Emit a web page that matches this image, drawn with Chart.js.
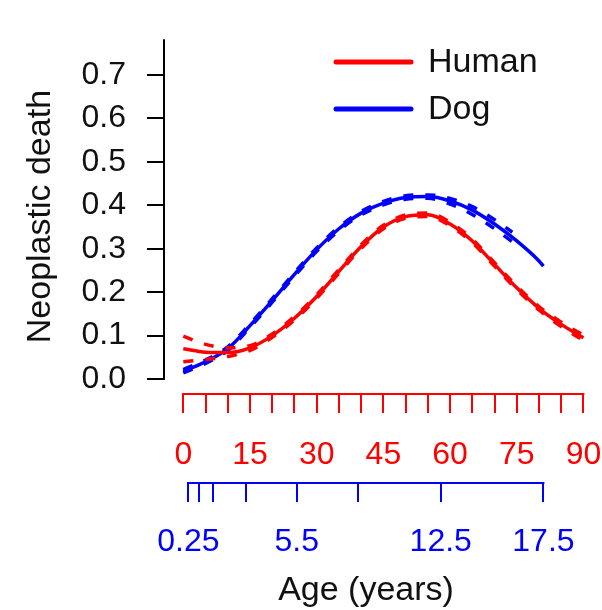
<!DOCTYPE html>
<html>
<head>
<meta charset="UTF-8">
<title>Neoplastic death by age</title>
<script src="https://cdn.jsdelivr.net/npm/chart.js@4.4.0/dist/chart.umd.min.js"></script>
<style>
  body { margin: 0; background: #fff; }
  #chart { display: block; }
</style>
</head>
<body>
<canvas id="chart" width="602" height="610"></canvas>
<script>
// human age (years) and fitted risk, with the dashed band
const humanAge  = [0, 5, 10, 15, 20, 25, 30, 35, 40, 45, 50, 55, 60, 65, 70, 75, 80, 85, 90]
const humanRisk = [0.070, 0.062, 0.061, 0.072, 0.100, 0.140, 0.190, 0.248, 0.305, 0.350, 0.374, 0.378, 0.357, 0.318, 0.264, 0.210, 0.163, 0.126, 0.095]
const humanHigh = [0.099, 0.080, 0.072, 0.077, 0.104, 0.144, 0.194, 0.252, 0.309, 0.354, 0.378, 0.382, 0.361, 0.322, 0.268, 0.214, 0.167, 0.131, 0.101]
const humanLow  = [0.040, 0.045, 0.052, 0.066, 0.096, 0.136, 0.186, 0.244, 0.301, 0.346, 0.370, 0.374, 0.353, 0.314, 0.260, 0.206, 0.159, 0.121, 0.089]

// dog curve, placed on the human-equivalent age axis
const dogAge  = [0, 5, 10, 15, 20, 25, 30, 35, 40, 45, 50, 55, 60, 65, 70, 75, 80, 81]
const dogRisk = [0.018, 0.040, 0.070, 0.123, 0.181, 0.241, 0.298, 0.346, 0.382, 0.405, 0.418, 0.420, 0.410, 0.389, 0.357, 0.318, 0.272, 0.260]
const dogCiAge = [0, 5, 10, 15, 20, 25, 30, 35, 40, 45, 50, 55, 60, 65, 70, 74]
const dogHigh  = [0.022, 0.044, 0.074, 0.127, 0.185, 0.245, 0.302, 0.350, 0.386, 0.409, 0.422, 0.424, 0.416, 0.397, 0.367, 0.338]
const dogLow   = [0.014, 0.036, 0.066, 0.119, 0.177, 0.237, 0.294, 0.342, 0.378, 0.401, 0.414, 0.416, 0.403, 0.379, 0.346, 0.316]

// axes
const yTicks = [0, 0.1, 0.2, 0.3, 0.4, 0.5, 0.6, 0.7]
const humanTicks = [0, 5, 10, 15, 20, 25, 30, 35, 40, 45, 50, 55, 60, 65, 70, 75, 80, 85, 90]
const humanLabelEvery = 15
const dogTickPos = [1.13, 3.6, 6.75, 14.0, 25.5, 39.4, 57.9, 81.0]
const dogTickLabels = ['0.25', '', '', '', '5.5', '', '12.5', '17.5']

const legendNames = ['Human', 'Dog']
const RED = '#ff0000'
const BLUE = '#0000ff'
const FONT = "'Liberation Sans', Arial, sans-serif"

const pts = (xs, ys) => xs.map((v, i) => ({x: v, y: ys[i]}))

const line = (label, data, color, dashed) => ({
  label: label,
  data: data,
  borderColor: color,
  borderWidth: dashed ? 3.5 : 3.5,
  borderDash: dashed ? [10, 12] : [],
  pointRadius: 0,
  cubicInterpolationMode: 'monotone',
  fill: false,
  clip: false
})

// axis lines only span the tick range, like the original
const axisLines = {
  id: 'axisLines',
  afterDraw(chart) {
    const {ctx, chartArea} = chart
    const {x, y, dog} = chart.scales
    ctx.save()
    ctx.lineWidth = 2
    ctx.lineCap = 'square'
    ctx.strokeStyle = '#000'
    ctx.beginPath()
    ctx.moveTo(chartArea.left - 1, y.getPixelForValue(0))
    ctx.lineTo(chartArea.left - 1, chartArea.top)
    ctx.stroke()
    ctx.strokeStyle = RED
    ctx.beginPath()
    ctx.moveTo(x.getPixelForValue(humanTicks[0]), x.top + 1)
    ctx.lineTo(x.getPixelForValue(humanTicks[humanTicks.length - 1]), x.top + 1)
    ctx.stroke()
    ctx.strokeStyle = BLUE
    ctx.beginPath()
    ctx.moveTo(dog.getPixelForValue(dogTickPos[0]), dog.top + 1)
    ctx.lineTo(dog.getPixelForValue(dogTickPos[dogTickPos.length - 1]), dog.top + 1)
    ctx.stroke()

    // legend
    const colors = [RED, BLUE]
    ctx.font = '34px ' + FONT
    ctx.textBaseline = 'middle'
    legendNames.forEach((name, i) => {
      const ly = 62 + i * 47
      ctx.strokeStyle = colors[i]
      ctx.lineWidth = 5
      ctx.lineCap = 'round'
      ctx.beginPath()
      ctx.moveTo(336, ly)
      ctx.lineTo(411, ly)
      ctx.stroke()
      ctx.fillStyle = '#111'
      ctx.fillText(name, 428, ly + 1)
    })
    ctx.restore()
  }
}

new Chart(document.getElementById('chart'), {
  type: 'line',
  data: {
    datasets: [
      line('Human', pts(humanAge, humanRisk), RED, false),
      line('Human upper', pts(humanAge, humanHigh), RED, true),
      line('Human lower', pts(humanAge, humanLow), RED, true),
      line('Dog', pts(dogAge, dogRisk), BLUE, false),
      line('Dog upper', pts(dogCiAge, dogHigh), BLUE, true),
      line('Dog lower', pts(dogCiAge, dogLow), BLUE, true)
    ]
  },
  options: {
    responsive: false,
    animation: false,
    layout: { padding: { top: 12, right: 35, bottom: 0, left: 0 } },
    plugins: { legend: { display: false }, tooltip: { enabled: false } },
    scales: {
      y: {
        type: 'linear',
        min: -0.032,
        max: 0.78,
        afterBuildTicks: s => { s.ticks = yTicks.map(v => ({value: v})) },
        afterFit: s => { s.width = 165 },
        border: { display: false },
        grid: { drawOnChartArea: false, drawTicks: true, tickLength: 18, color: '#000', lineWidth: 2 },
        ticks: {
          color: '#111', padding: 21,
          font: { family: FONT, size: 32 },
          callback: v => v.toFixed(1)
        },
        title: {
          display: true, text: 'Neoplastic death', color: '#111',
          font: { family: FONT, size: 34 }, padding: { top: 20, bottom: 0 }
        }
      },
      x: {
        type: 'linear',
        position: 'bottom',
        weight: 0,
        min: -4.12,
        max: 86.3,
        afterBuildTicks: s => { s.ticks = humanTicks.map(v => ({value: v})) },
        afterFit: s => { s.height = 89; s.paddingLeft = 0; s.paddingRight = 0 },
        border: { display: false },
        grid: { drawOnChartArea: false, drawTicks: true, tickLength: 20, color: RED, lineWidth: 2 },
        ticks: {
          color: RED, padding: 23, autoSkip: false, maxRotation: 0, minRotation: 0,
          font: { family: FONT, size: 32 },
          callback: v => (v % humanLabelEvery === 0 ? String(v) : '')
        }
      },
      dog: {
        type: 'linear',
        position: 'bottom',
        axis: 'x',
        weight: 1,
        min: -4.12,
        max: 86.3,
        afterBuildTicks: s => { s.ticks = dogTickPos.map(v => ({value: v})) },
        afterFit: s => { s.height = 128; s.paddingLeft = 0; s.paddingRight = 0 },
        border: { display: false },
        grid: { drawOnChartArea: false, drawTicks: true, tickLength: 20, color: BLUE, lineWidth: 2 },
        ticks: {
          color: BLUE, padding: 21, autoSkip: false, maxRotation: 0, minRotation: 0,
          font: { family: FONT, size: 32 },
          callback: (v, i) => dogTickLabels[i]
        },
        title: {
          display: true, text: 'Age (years)', color: '#111',
          font: { family: FONT, size: 34 }, padding: { top: 0, bottom: -1 }
        }
      }
    }
  },
  plugins: [axisLines]
})
</script>
</body>
</html>
